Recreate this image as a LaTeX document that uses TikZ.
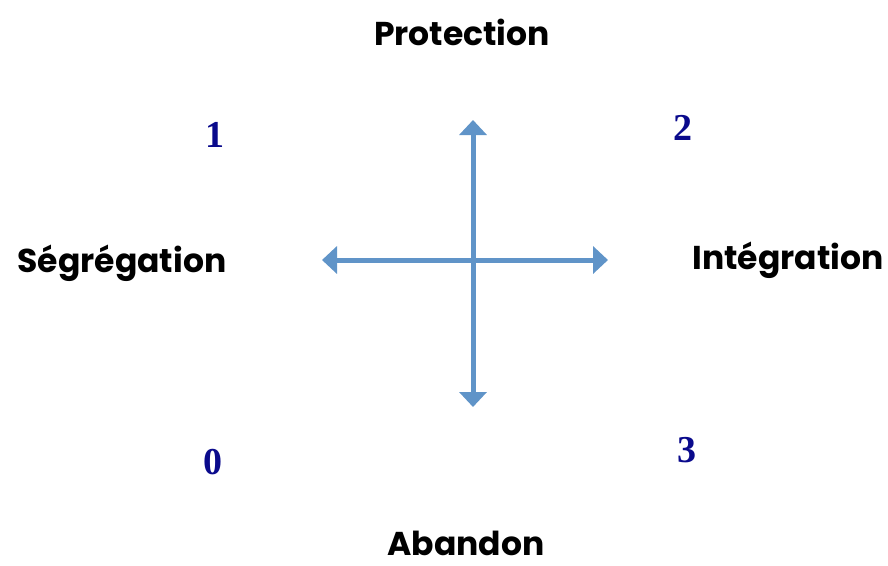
\documentclass[tikz,border=0pt]{standalone}
\usepackage{fontspec}
\setmainfont{Poppins}
\newfontfamily\numfont{Liberation Serif}
\usetikzlibrary{arrows.meta}
\definecolor{axisblue}{RGB}{96,148,200}
\definecolor{numblue}{RGB}{10,10,140}
\begin{document}
\begin{tikzpicture}[x=1pt,y=-1pt,
  lbl/.style={font=\fontsize{33}{38}\selectfont\bfseries, text=black, inner sep=0pt},
  num/.style={font=\numfont\fontsize{38}{44}\selectfont\bfseries, text=numblue, inner sep=0pt},
  axis/.style={draw=axisblue, line width=5pt, {Triangle[length=15pt,width=27pt]}-{Triangle[length=15pt,width=27pt]}}]
\useasboundingbox (0,0) rectangle (888,565);
\coordinate (top) at (473,120);
\coordinate (bot) at (473,407);
\coordinate (lft) at (322,260);
\coordinate (rgt) at (608,260);
\draw[axis] (bot) -- (top);
\draw[axis] (lft) -- (rgt);
\node[lbl] (prot) at (462,32) {Protection};
\node[lbl] (seg) at (122,263) {Ségrégation};
\node[lbl] (int) at (788,260) {Intégration};
\node[lbl, anchor=base, text depth=0pt] (aban) at (466,555) {Abandon};
\node[num] (n1) at (215,135) {1};
\node[num] (n2) at (683,128) {2};
\node[num] (n3) at (687,450) {3};
\node[num] (n0) at (213,462) {0};
\end{tikzpicture}
\end{document}
